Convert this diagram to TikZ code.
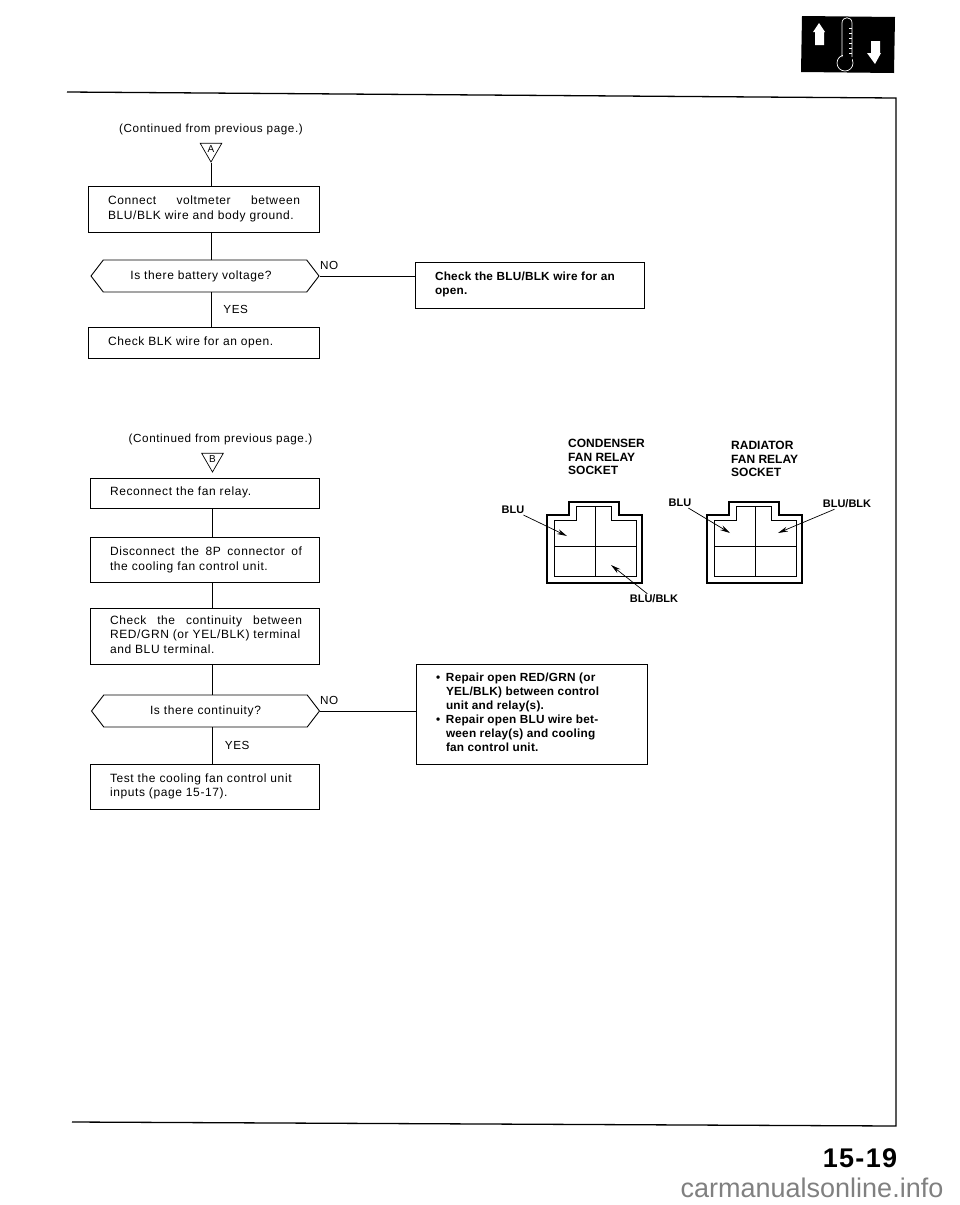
\documentclass[tikz,border=0pt]{standalone}
\usepackage{fontspec}
\setmainfont{Liberation Sans}
\newfontfamily\spaced[LetterSpace=5]{Liberation Sans}
\newfontfamily\heavy[LetterSpace=2]{Liberation Sans}
\newfontfamily\pagefont[LetterSpace=5]{Liberation Sans}
\usetikzlibrary{shapes.geometric,shapes.symbols,arrows.meta}

\tikzset{
  stepbox/.style={draw=black,line width=0.9pt,rectangle,inner sep=0pt,font=\spaced\fontsize{12}{14.5}\selectfont},
  heavybox/.style={stepbox,font=\heavy\bfseries\fontsize{11.8}{14}\selectfont},
  querybox/.style={draw=black,line width=0.9pt,shape=signal,signal to=east and west,signal pointer angle=105,minimum width=228pt,minimum height=32pt,inner sep=0pt,font=\spaced\fontsize{12}{14}\selectfont},
  marker/.style={draw=black,line width=0.7pt,regular polygon,regular polygon sides=3,shape border rotate=180,minimum size=25pt,inner sep=0pt,font=\fontsize{10}{10}\selectfont},
  chartnote/.style={font=\spaced\fontsize{11.7}{14}\selectfont,inner sep=0pt},
  socketlabel/.style={font=\bfseries\fontsize{12}{13.7}\selectfont,align=left,anchor=north west,inner sep=0pt},
  wirelabel/.style={font=\bfseries\fontsize{11}{12}\selectfont,inner sep=1pt},
  wirearrow/.style={-{Stealth[length=10pt,width=5pt]},line width=0.7pt}
}
\newcommand{\spreadline}[1]{\hbox to 192pt{#1}}
\newcommand{\boxtext}[2]{\hbox to #1pt{\hspace{20pt}\begin{tabular}{@{}l@{}}#2\end{tabular}\hfill}}
\newcommand{\bul}{\makebox[10pt][l]{•}}

\begin{document}
\begin{tikzpicture}[x=1pt,y=-1pt]
   \useasboundingbox (0,0) rectangle (960,1205);

   % page frame
   \draw[line width=1.3pt] (67,92) -- (896,98) -- (896,1126) -- (72,1122);

   % thermometer tab
   \fill (802,16) -- (895,17) -- (894,73) -- (801,72) -- cycle;
   \fill[white] (819,23) -- (825,32) -- (824,32) -- (824,45) -- (815,45) -- (815,32) -- (813,32) -- cycle;
   \fill[white] (871,41) -- (880,41) -- (880,53) -- (881,53) -- (875,64) -- (867,53) -- (871,53) -- cycle;
   \draw[white,line width=0.7pt] (845,63) circle[radius=8pt];
   \fill (842.5,52) rectangle (851.5,60);
   \draw[white,line width=0.7pt] (842,57) -- (842,23) .. controls (842,16) and (852,16) .. (852,23) -- (852,57);
   \foreach \ty in {28,33,...,53} {
     \draw[white,line width=0.3pt] (849,\ty) -- (852,\ty);
   }

   % first chart
   \node[chartnote] (contA) at (211,129) {(Continued from previous page.)};
   \node[marker] (triA) at (211,149.5) {A};
   \node[stepbox,minimum width=231pt,minimum height=46pt] (connect) at (203.5,209)
      {\boxtext{231}{\spreadline{Connect\hfill voltmeter\hfill between}\\BLU/BLK wire and body ground.}};
   \node[querybox] (battery) at (205,276) {\hspace*{-8pt}Is there battery voltage?};
   \node[stepbox,minimum width=231pt,minimum height=31pt] (blkopen) at (203.5,342.5)
      {\boxtext{231}{Check BLK wire for an open.}};
   \node[heavybox,minimum width=229pt,minimum height=46pt] (bluopen) at (529.5,285)
      {\boxtext{229}{Check the BLU/BLK wire for an\\open.}};

   \path[-,line width=0.7pt] (triA.south) edge (triA.south |- connect.north);
   \path[-,line width=0.9pt] (triA.south |- connect.south) edge (triA.south |- battery.north);
   \path[-,line width=0.9pt] (triA.south |- battery.south) edge node[chartnote,right,xshift=12pt] {YES} (triA.south |- blkopen.north);
   \path[-,line width=0.9pt] (battery.east) edge (battery.east -| bluopen.west);
   \node[chartnote,anchor=west] (noA) at (320,265) {NO};

   % second chart
   \node[chartnote] (contB) at (220.5,439) {(Continued from previous page.)};
   \node[marker] (triB) at (212.5,459.5) {B};
   \node[stepbox,minimum width=229pt,minimum height=30pt] (reconnect) at (204.5,493)
      {\boxtext{229}{Reconnect the fan relay.}};
   \node[stepbox,minimum width=229pt,minimum height=45pt] (disconnect) at (204.5,560)
      {\boxtext{229}{\spreadline{Disconnect the 8P connector of}\\the cooling fan control unit.}};
   \node[stepbox,minimum width=229pt,minimum height=56pt] (checkcont) at (204.5,636)
      {\boxtext{229}{\spreadline{Check\hfill the\hfill continuity\hfill between}\\RED/GRN (or YEL/BLK) terminal\\and BLU terminal.}};
   \node[querybox] (continuity) at (205.5,711) {Is there continuity?};
   \node[stepbox,minimum width=229pt,minimum height=45pt] (testunit) at (204.5,786.5)
      {\boxtext{229}{Test the cooling fan control unit\\inputs (page 15-17).}};
   \node[heavybox,minimum width=231pt,minimum height=100pt] (repair) at (531.5,714)
      {\boxtext{231}{\bul Repair open RED/GRN (or\\\hspace*{10pt}YEL/BLK) between control\\\hspace*{10pt}unit and relay(s).\\\bul Repair open BLU wire bet-\\\hspace*{10pt}ween relay(s) and cooling\\\hspace*{10pt}fan control unit.}};

   \path[-,line width=0.7pt] (reconnect.south -| triB.south) edge (disconnect.north -| triB.south);
   \path[-,line width=0.9pt] (disconnect.south -| triB.south) edge (checkcont.north -| triB.south);
   \path[-,line width=0.9pt] (checkcont.south -| triB.south) edge (continuity.north -| triB.south);
   \path[-,line width=0.9pt] (continuity.south -| triB.south) edge node[chartnote,right,xshift=12pt] {YES} (testunit.north -| triB.south);
   \path[-,line width=0.9pt] (continuity.east) edge (continuity.east -| repair.west);
   \node[chartnote,anchor=west] (noB) at (320,700) {NO};

   % sockets
   \foreach \ox in {0,160} {
     \draw[line width=1.8pt] (546.7+\ox,515) -- (569.3+\ox,515) -- (569.3+\ox,502.3) -- (619+\ox,502.3) -- (619+\ox,515) -- (642.3+\ox,515) -- (642.3+\ox,582.7) -- (546.7+\ox,582.7) -- cycle;
     \draw[line width=0.7pt] (554+\ox,520.7) -- (576+\ox,520.7) -- (576+\ox,506.7) -- (611.7+\ox,506.7) -- (611.7+\ox,520.7) -- (636+\ox,520.7) -- (636+\ox,576.7) -- (554+\ox,576.7) -- cycle;
     \draw[line width=0.7pt] (595+\ox,506.7) -- (595+\ox,576.7);
     \draw[line width=0.7pt] (554+\ox,546) -- (636+\ox,546);
   }
   \node[socketlabel] (condenser) at (568,439) {CONDENSER\\FAN RELAY\\SOCKET};
   \node[socketlabel] (radiator) at (731,441) {RADIATOR\\FAN RELAY\\SOCKET};

   \node[wirelabel] (blua) at (513,510) {BLU};
   \node[wirelabel] (blkb) at (654,599) {BLU/BLK};
   \node[wirelabel] (bluc) at (680,503) {BLU};
   \node[wirelabel] (blkd) at (847,504) {BLU/BLK};
   \coordinate (pina) at (567,536);
   \coordinate (pinb) at (611,565);
   \coordinate (pinc) at (730,533);
   \coordinate (pind) at (778,533);
   \path[wirearrow] (blua) edge (pina);
   \path[wirearrow] (blkb) edge (pinb);
   \path[wirearrow] (bluc) edge (pinc);
   \path[wirearrow] (blkd) edge (pind);

   % page number
   \node[font=\pagefont\bfseries\fontsize{27}{27}\selectfont,inner sep=0pt] (pageno) at (860,1158) {15-19};
   \node[text=black!50,font=\fontsize{27}{27}\selectfont,inner sep=0pt] (site) at (812,1188) {carmanualsonline.info};
\end{tikzpicture}
\end{document}
